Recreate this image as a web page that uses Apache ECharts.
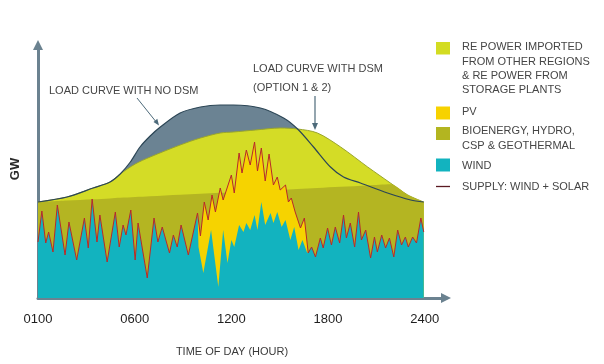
<!DOCTYPE html>
<html>
<head>
<meta charset="utf-8">
<script src="https://cdn.jsdelivr.net/npm/echarts@6/dist/echarts.min.js"></script>
<style>
html,body{margin:0;padding:0;background:#fff;}
#chart{width:604px;height:364px;}
</style>
</head>
<body>
<div id="chart"></div>
<script>
// Tick labels of the (evenly spaced) time axis; 100 axis units = one label step
const timeLabels = ['0100', '0600', '1200', '1800', '2400'];

// Load curve with no DSM  [time, GW (relative)]
const loadNoDsm = [[0,48],[30,50.5],[57,55],[74.5,58],[85,62],[95.5,68],[105.5,75.5],[116,81],[126.5,85.5],[147,92.5],[168,95.5],[188.5,96.5],[202,96.5],[230,95],[254,90],[268.5,84.5],[285,75.5],[302.5,65.5],[316,60.5],[333.5,57.5],[361.5,52.5],[385.5,49],[399,48]];

// Load curve with DSM (option 1 & 2)
const loadDsm = [[0,48],[30,50.5],[57,55],[74.5,58],[85,62],[100.5,67],[116,70.5],[147,76.5],[168,80],[188.5,82.5],[202,83],[225,84],[250.5,85],[268.5,84.5],[289,82.5],[313,75.5],[341,65.5],[364.5,57.5],[382.5,51.5],[399,48]];

// Bioenergy, hydro, CSP & geothermal: top level (straight, start & end)
const bioTop = [[0,48],[399,57.7]];

// Supply: wind + solar
const supply = [[0,28],[4,43.5],[8,27.5],[11,33],[15.5,23],[20,46.5],[28,21.5],[32,38],[40,19],[48,40],[52,25],[56,49.5],[61,28],[64,41.5],[71.5,18],[80,43],[84,25.5],[88,36.5],[91,31.5],[96,44],[100.5,19],[103.5,37.5],[113,10],[120,40],[124,28],[128.5,35.5],[136,22.5],[140,31.5],[144,25.5],[148,36.5],[155.5,21.5],[165,42.5],[168,31],[172,48],[176,39],[180,51.5],[183.5,43],[188.5,55],[191.5,49],[200,61.5],[203,52.5],[208,72.5],[211,62.5],[215.5,74],[219.5,66.5],[224,78],[227,63.5],[231,75],[235,58.5],[239,72],[243.5,56.5],[247.5,60.5],[250.5,54],[256,56.5],[259,48],[262,50],[266,43],[271.5,35],[275.5,40],[279.5,22.5],[283,25.5],[287,20.5],[292,30],[295,25],[299.5,35],[303.5,26.5],[307.5,35.5],[312,27.5],[316,41.5],[319,30],[323,37.5],[327.5,25.5],[331.5,43],[334.5,29],[339,34],[344,20],[348,30.5],[351,23],[355.5,31.5],[359.5,25],[363.5,30],[368,20.5],[372,34],[376,26.5],[380,30.5],[383,25.5],[387.5,30.5],[391.5,27.5],[396,40],[399,33]];

// Wind during PV hours (outside these hours wind equals supply)
const pvStart = 165, pvEnd = 279.5;
const windDay = [[166,25.5],[171,12.5],[179,34],[186.5,5.5],[191.5,34],[196,17.5],[200,29],[203,25.5],[208,36.5],[212.5,33],[215.5,37.5],[219.5,34],[224,41.5],[227,34],[231,48],[235,36.5],[240.5,42.5],[243.5,37.5],[247.5,43],[252,35.5],[256,39],[261,29],[265,35.5],[269.5,24],[273.5,29],[278.5,22.5]];

const wind = supply.filter(p => p[0] <= pvStart)
  .concat(windDay)
  .concat(supply.filter(p => p[0] >= pvEnd));

// Bio area top = min(straight bio level, DSM load)
function interp(arr, u) {
  for (let i = 0; i < arr.length - 1; i++) {
    const a = arr[i], b = arr[i + 1];
    if (u >= a[0] && u <= b[0]) return a[1] + (b[1] - a[1]) * (u - a[0]) / (b[0] - a[0]);
  }
  return arr[arr.length - 1][1];
}
const bioArea = loadDsm.map(p => [p[0], Math.min(p[1], interp(bioTop, p[0]))]);

const chart = echarts.init(document.getElementById('chart'), null, {renderer: 'canvas'});
const FONT = 'Liberation Sans, Arial, sans-serif';
const txtCol = '#454545';
const axisCol = '#6b8290';

function text(x, y, t, extra) {
  return Object.assign({
    type: 'text', x: x, y: y, silent: true,
    style: Object.assign({text: t, fill: txtCol, font: '11px ' + FONT,
      align: 'left', verticalAlign: 'middle', textAlign: 'left', textVerticalAlign: 'middle'}, extra || {})
  });
}
function rect(x, y, w, h, c) {
  return {type: 'rect', shape: {x: x, y: y, width: w, height: h}, style: {fill: c}, silent: true};
}

const graphics = [
  // legend
  rect(436, 42, 14, 12.5, '#d3dc22'),
  text(462, 47, 'RE POWER IMPORTED'),
  text(462, 61.7, 'FROM OTHER REGIONS'),
  text(462, 75.5, '& RE POWER FROM'),
  text(462, 89.5, 'STORAGE PLANTS'),
  rect(436, 106.5, 14, 13, '#f7d200'),
  text(462, 112, 'PV'),
  rect(436, 127, 14, 13, '#b3b520'),
  text(462, 131, 'BIOENERGY, HYDRO,'),
  text(462, 145.5, 'CSP & GEOTHERMAL'),
  rect(436, 158.5, 14, 13, '#12b3bf'),
  text(462, 165.5, 'WIND'),
  {type: 'line', shape: {x1: 436, y1: 186.5, x2: 450, y2: 186.5}, style: {stroke: '#5a1a22', lineWidth: 1.3}, silent: true},
  text(462, 186.5, 'SUPPLY: WIND + SOLAR'),
  // annotations
  text(49, 91, 'LOAD CURVE WITH NO DSM'),
  {type: 'line', shape: {x1: 137, y1: 98, x2: 157, y2: 123}, style: {stroke: '#4d6a7a', lineWidth: 1}, silent: true},
  {type: 'polygon', shape: {points: [[159, 125.5], [153.5, 122], [157.3, 118.8]]}, style: {fill: '#4d6a7a'}, silent: true},
  text(253, 69, 'LOAD CURVE WITH DSM'),
  text(253, 88, '(OPTION 1 & 2)'),
  {type: 'line', shape: {x1: 315, y1: 96, x2: 315, y2: 124}, style: {stroke: '#4d6a7a', lineWidth: 1.2}, silent: true},
  {type: 'polygon', shape: {points: [[315, 130], [312, 123], [318, 123]]}, style: {fill: '#4d6a7a'}, silent: true},
  rect(296, 161, 2.5, 9, '#ffffff'),
  // axis titles
  Object.assign(text(15, 169, 'GW', {font: 'bold 13px ' + FONT, fill: '#2a2a2a', align: 'center', textAlign: 'center'}), {rotation: Math.PI / 2}),
  text(232, 352, 'TIME OF DAY (HOUR)', {align: 'center', textAlign: 'center', fill: '#3a3a3a'})
];

function areaSeries(name, data, color, smooth, z) {
  return {
    name: name, type: 'line', data: data, smooth: smooth, symbol: 'none', z: z,
    lineStyle: {width: 0}, areaStyle: {color: color, opacity: 1}, silent: true
  };
}

chart.setOption({
  animation: false,
  backgroundColor: '#ffffff',
  grid: {left: 38, right: 158, top: 45, bottom: 66},
  xAxis: {
    type: 'value', min: 0, max: 422, interval: 100,
    axisLine: {show: true, lineStyle: {color: axisCol, width: 3}, symbol: ['none', 'triangle'], symbolSize: [10, 10]},
    axisTick: {show: false}, splitLine: {show: false},
    axisLabel: {
      color: '#1e1e1e', fontSize: 13, fontFamily: FONT, margin: 15,
      formatter: function (v) { const i = v / 100; return (Number.isInteger(i) && timeLabels[i]) ? timeLabels[i] : ''; }
    }
  },
  yAxis: {
    type: 'value', min: 0, max: 126.5,
    axisLine: {show: true, lineStyle: {color: axisCol, width: 3}, symbol: ['none', 'triangle'], symbolSize: [10, 10]},
    axisTick: {show: false}, splitLine: {show: false}, axisLabel: {show: false}
  },
  series: [
    areaSeries('Load curve with no DSM', loadNoDsm, '#6b8393', 0.3, 1),
    Object.assign(areaSeries('RE power imported from other regions & RE power from storage plants', loadDsm, '#d4dc26', 0.3, 2), {lineStyle: {width: 1, color: '#9aa52c'}}),
    areaSeries('Bioenergy, hydro, CSP & geothermal', bioArea, '#b4b522', 0.3, 3),
    areaSeries('PV', supply, '#f6d300', false, 4),
    areaSeries('Wind', wind, '#12b3bf', false, 5),
    {name: 'Supply: wind + solar', type: 'line', data: supply, symbol: 'none', z: 6, silent: true,
      lineStyle: {color: '#b8282b', width: 1}},
    {name: 'Load no DSM line', type: 'line', data: loadNoDsm, smooth: 0.3, symbol: 'none', z: 7, silent: true,
      lineStyle: {color: '#2c4656', width: 1.2}}
  ],
  graphic: graphics
});
</script>
</body>
</html>
